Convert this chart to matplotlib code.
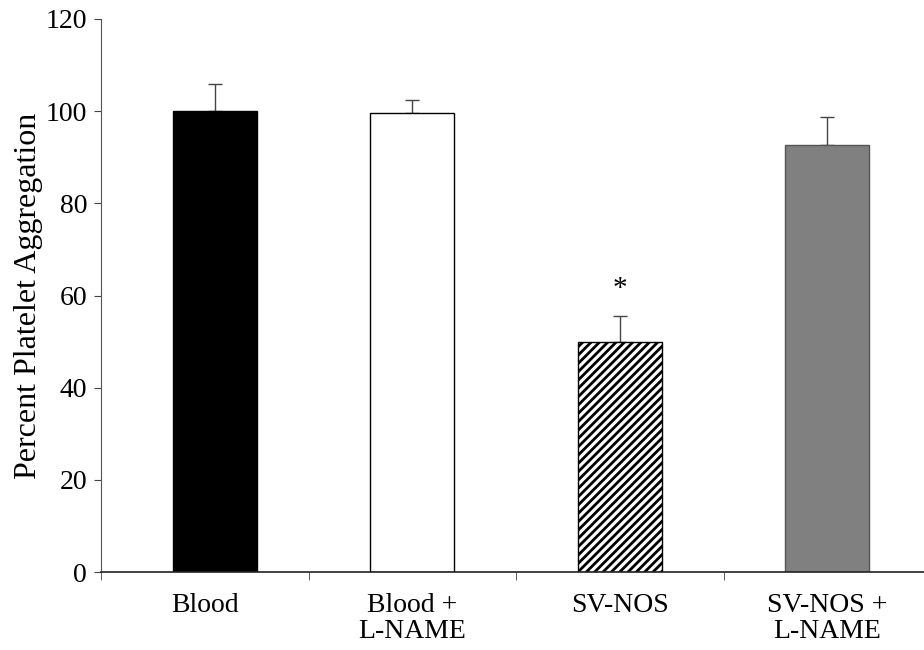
import matplotlib.pyplot as plt
import numpy as np

plt.rcParams['font.family'] = ['Liberation Serif', 'DejaVu Serif']
plt.rcParams['hatch.linewidth'] = 2.0

groups = ['Blood', 'Blood +\nL-NAME', 'SV-NOS', 'SV-NOS +\nL-NAME']
means = [100, 99.5, 50, 92.7]
errs = [6, 3, 5.5, 6]
colors = ['#000000', '#ffffff', '#ffffff', '#808080']
edges = ['#000000', '#000000', '#000000', '#555555']
hatches = ['', '', '////', '']

fig = plt.figure(figsize=(9.24, 6.5), dpi=100)
ax = fig.add_axes([101/924, 1-572/650, 830/924, 553/650])

x = np.arange(len(groups))
bar_x = x + np.array([0.05, 0, 0, 0])
for i in range(len(groups)):
    ax.bar(bar_x[i], means[i], width=0.405, color=colors[i], edgecolor=edges[i],
           hatch=hatches[i], linewidth=1.0, zorder=2)
    ax.errorbar(bar_x[i], means[i], yerr=[[0], [errs[i]]], fmt='none',
                ecolor='#444444', elinewidth=1.0, capsize=5, capthick=1.0, zorder=1)

# significance marker
ax.text(bar_x[2], means[2] + errs[2] + 6.0, '*', ha='center', va='center', fontsize=21)

ax.set_xlim(-0.5, 3.5)
ax.set_ylim(0, 120)
ax.set_yticks(np.arange(0, 121, 20))
ax.set_xticks(x)
ax.set_xticklabels(groups, fontsize=20, linespacing=1.08)
ax.set_xticks(np.arange(-0.5, 3.6, 1), minor=True)
ax.tick_params(axis='x', which='major', length=0, pad=15)
ax.tick_params(axis='x', which='minor', length=6, direction='out', color='#444444')
ax.tick_params(axis='y', length=5, direction='out', labelsize=20, pad=5, color='#444444')
ax.set_ylabel('Percent Platelet Aggregation', fontsize=23, labelpad=2)

ax.spines['top'].set_visible(False)
ax.spines['right'].set_visible(False)
ax.spines['left'].set_color('#555555')
ax.spines['bottom'].set_color('#222222')
ax.spines['bottom'].set_linewidth(1.2)

fig.savefig('out.png', dpi=100)
